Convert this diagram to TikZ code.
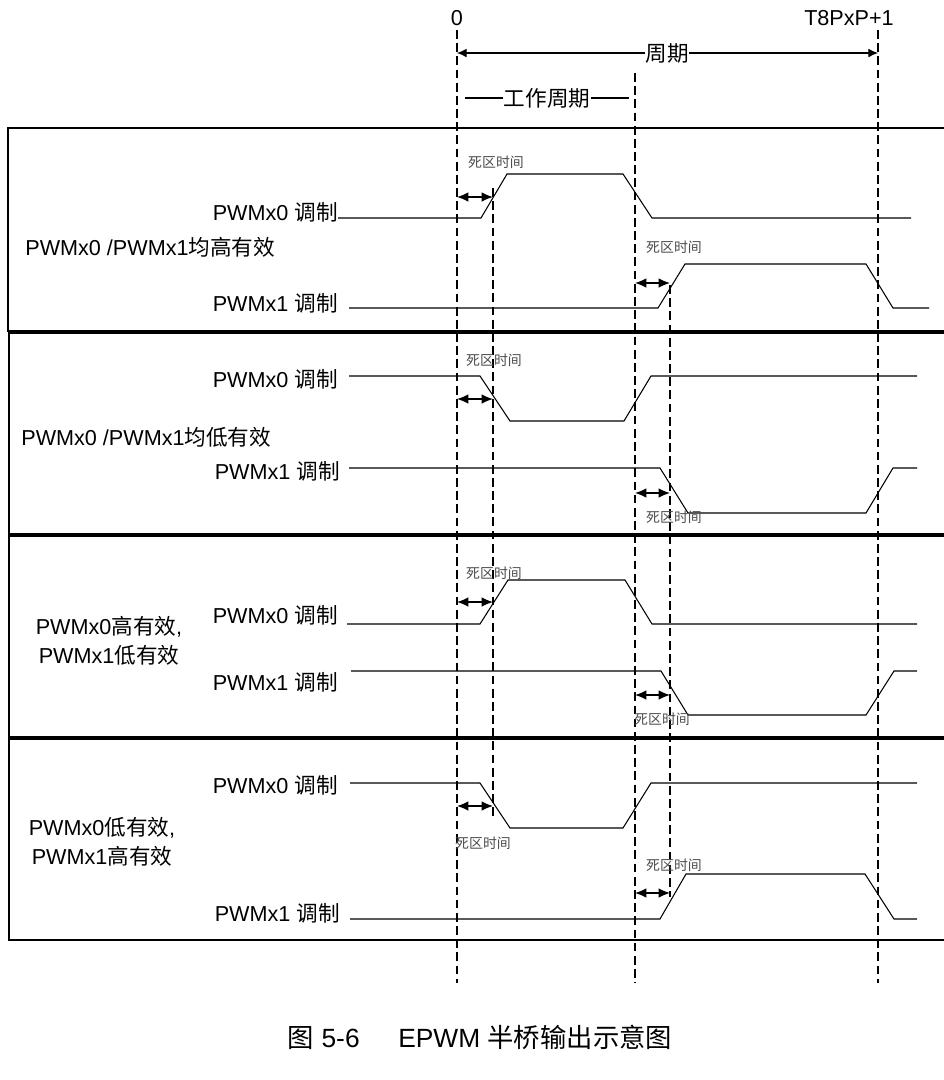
\documentclass[tikz,border=0pt]{standalone}
\usepackage{fontspec}
\setmainfont{Liberation Sans}
\newfontfamily\zhfont{Noto Sans CJK SC}
\usetikzlibrary{arrows.meta}

\begin{document}
\begin{tikzpicture}[x = 0.02cm, y = -0.02cm,
  panel/.style = {line width = 0.9pt},
  wave/.style = {line width = 0.6pt, line join = miter},
  tline/.style = {line width = 1.3pt, dash pattern = on 5pt off 2.5pt},
  dtarr/.style = {line width = 0.7pt, {Latex[length = 6.5pt, width = 5.5pt]}-{Latex[length = 6.5pt, width = 5.5pt]}},
  perarr/.style = {line width = 0.6pt, -{Latex[length = 5.5pt, width = 5pt]}},
  dtlabel/.style = {font = \zhfont\fontsize{7.9}{9}\selectfont, text = black!70, inner sep = 0pt},
  sglabel/.style = {font = \fontsize{12.3}{14}\selectfont, anchor = east, inner sep = 0pt},
  modelabel/.style = {font = \fontsize{12.3}{16.4}\selectfont, align = center, inner sep = 0pt},
  toplabel/.style = {font = \fontsize{12.3}{14}\selectfont, inner sep = 0pt}]
\useasboundingbox (0, 0) rectangle (944, 1080);
\fill[white] (0, 0) rectangle (944, 1080);
\draw[panel] (944, 128) -- (8, 128) -- (8, 331) -- (944, 331);
\draw[panel] (944, 333) -- (9, 333) -- (9, 534) -- (944, 534);
\draw[panel] (944, 536) -- (9, 536) -- (9, 737) -- (944, 737);
\draw[panel] (944, 739) -- (9, 739) -- (9, 940) -- (944, 940);
\node[toplabel] (lzero) at (457, 18){0};
\node[toplabel] (lend) at (849, 18){T8PxP+1};
\coordinate (z0) at (457, 30);
\coordinate (z1) at (493, 188);
\coordinate (z2) at (635, 73);
\coordinate (z3) at (670, 285);
\coordinate (z4) at (878, 30);
\draw[tline] (z0) -- (457, 983);
\draw[tline] (z1) -- (493, 820);
\draw[tline] (z2) -- (635, 983);
\draw[tline] (z3) -- (670, 897);
\draw[tline] (z4) -- (878, 983);
\node[toplabel, font = \zhfont\fontsize{12.3}{14}\selectfont] (per) at (667, 53){周期};
\draw[perarr] (per.west) -- (z0 |- per);
\draw[perarr] (per.east) -- (z4 |- per);
\node[toplabel, font = \zhfont\fontsize{12.3}{14}\selectfont] (duty) at (547, 98){工作周期};
\draw[line width = 0.6pt] (duty.west) -- (465, 98);
\draw[line width = 0.6pt] (duty.east) -- (629, 98);
\node[sglabel] (a0) at (338, 212){PWMx0 {\zhfont 调制}};
\node[sglabel] (a1) at (338, 303){PWMx1 {\zhfont 调制}};
\node[modelabel, anchor = west] (am) at (25, 247){PWMx0 /PWMx1{\zhfont 均高有效}};
\draw[wave] (338, 218) -- (481, 218) -- (507, 174) -- (623, 174) -- (652, 218) -- (911, 218);
\draw[wave] (349, 308) -- (658, 308) -- (685, 264) -- (866, 264) -- (893, 308) -- (929, 308);
\node[dtlabel] (ad0) at (496, 162){死区时间};
\node[dtlabel] (ad1) at (674, 247){死区时间};
\draw[dtarr] (z0 |- 0, 197) -- (z1 |- 0, 197);
\draw[dtarr] (z2 |- 0, 283) -- (z3 |- 0, 283);
\node[sglabel] (b0) at (338, 379){PWMx0 {\zhfont 调制}};
\node[sglabel] (b1) at (340, 471){PWMx1 {\zhfont 调制}};
\node[modelabel, anchor = west] (bm) at (21, 437){PWMx0 /PWMx1{\zhfont 均低有效}};
\draw[wave] (349, 376) -- (480, 376) -- (510, 421) -- (624, 421) -- (651, 376) -- (917, 376);
\draw[wave] (349, 468) -- (660, 468) -- (688, 513) -- (866, 513) -- (893, 468) -- (917, 468);
\node[dtlabel] (bd0) at (494, 360){死区时间};
\node[dtlabel] (bd1) at (674, 517){死区时间};
\draw[dtarr] (z0 |- 0, 399) -- (z1 |- 0, 399);
\draw[dtarr] (z2 |- 0, 493) -- (z3 |- 0, 493);
\node[sglabel] (c0) at (338, 615){PWMx0 {\zhfont 调制}};
\node[sglabel] (c1) at (338, 682){PWMx1 {\zhfont 调制}};
\node[modelabel] (cm) at (109, 641){PWMx0{\zhfont 高有效},\\PWMx1{\zhfont 低有效}};
\draw[wave] (347, 624) -- (480, 624) -- (508, 580) -- (625, 580) -- (652, 624) -- (917, 624);
\draw[wave] (351, 671) -- (661, 671) -- (688, 715) -- (866, 715) -- (894, 671) -- (917, 671);
\node[dtlabel] (cd0) at (494, 573){死区时间};
\node[dtlabel] (cd1) at (662, 719){死区时间};
\draw[dtarr] (z0 |- 0, 602) -- (z1 |- 0, 602);
\draw[dtarr] (z2 |- 0, 695) -- (z3 |- 0, 695);
\node[sglabel] (d0) at (338, 785){PWMx0 {\zhfont 调制}};
\node[sglabel] (d1) at (340, 913){PWMx1 {\zhfont 调制}};
\node[modelabel] (dm) at (102, 842){PWMx0{\zhfont 低有效},\\PWMx1{\zhfont 高有效}};
\draw[wave] (350, 783) -- (480, 783) -- (510, 828) -- (623, 828) -- (651, 783) -- (917, 783);
\draw[wave] (350, 919) -- (660, 919) -- (686, 874) -- (865, 874) -- (894, 919) -- (917, 919);
\node[dtlabel] (dd0) at (483, 843){死区时间};
\node[dtlabel] (dd1) at (674, 865){死区时间};
\draw[dtarr] (z0 |- 0, 806) -- (z1 |- 0, 806);
\draw[dtarr] (z2 |- 0, 893) -- (z3 |- 0, 893);
\node[font = \fontsize{15}{18}\selectfont, inner sep = 0pt] (cap) at (480, 1037){{\zhfont 图}\ 5-6\hspace{22pt}EPWM {\zhfont 半桥输出示意图}};
\end{tikzpicture}
\end{document}
